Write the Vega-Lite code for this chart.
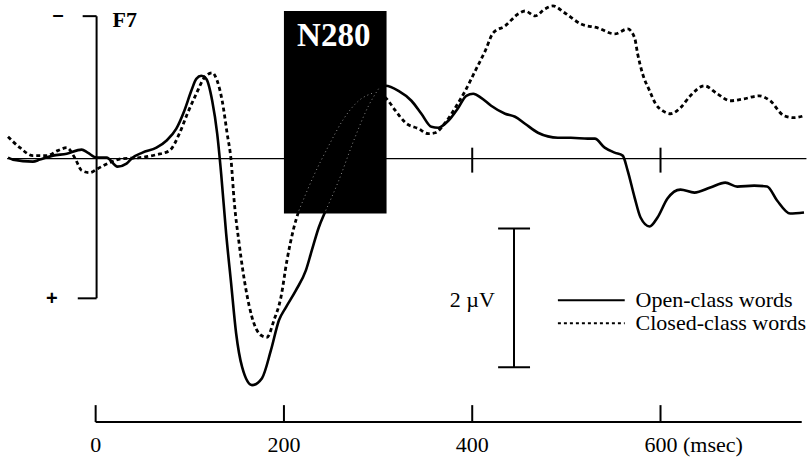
{
  "$schema": "https://vega.github.io/schema/vega-lite/v6.json",
  "width": 810,
  "height": 458,
  "autosize": {"type": "fit", "contains": "padding"},
  "padding": 0,
  "background": "white",
  "config": {"view": {"stroke": null}},
  "datasets": {
    "curves": [
      {"cond": "Open-class words", "ms": -93.1, "uv": -0.014},
      {"cond": "Open-class words", "ms": -87.8, "uv": 0.014},
      {"cond": "Open-class words", "ms": -66.7, "uv": 0.043},
      {"cond": "Open-class words", "ms": -59.3, "uv": 0.014},
      {"cond": "Open-class words", "ms": -45.5, "uv": -0.043},
      {"cond": "Open-class words", "ms": -30.7, "uv": -0.071},
      {"cond": "Open-class words", "ms": -14.8, "uv": -0.129},
      {"cond": "Open-class words", "ms": -8.5, "uv": -0.086},
      {"cond": "Open-class words", "ms": 1.1, "uv": -0.014},
      {"cond": "Open-class words", "ms": 11.6, "uv": -0.014},
      {"cond": "Open-class words", "ms": 23.3, "uv": 0.114},
      {"cond": "Open-class words", "ms": 32.8, "uv": 0.071},
      {"cond": "Open-class words", "ms": 39.2, "uv": -0.014},
      {"cond": "Open-class words", "ms": 49.7, "uv": -0.086},
      {"cond": "Open-class words", "ms": 64.6, "uv": -0.157},
      {"cond": "Open-class words", "ms": 75.1, "uv": -0.257},
      {"cond": "Open-class words", "ms": 85.7, "uv": -0.429},
      {"cond": "Open-class words", "ms": 94.2, "uv": -0.686},
      {"cond": "Open-class words", "ms": 101.6, "uv": -0.971},
      {"cond": "Open-class words", "ms": 106.9, "uv": -1.143},
      {"cond": "Open-class words", "ms": 112.2, "uv": -1.186},
      {"cond": "Open-class words", "ms": 117.5, "uv": -1.143},
      {"cond": "Open-class words", "ms": 123.8, "uv": -0.829},
      {"cond": "Open-class words", "ms": 129.1, "uv": -0.357},
      {"cond": "Open-class words", "ms": 133.3, "uv": 0.214},
      {"cond": "Open-class words", "ms": 138.6, "uv": 1.071},
      {"cond": "Open-class words", "ms": 143.9, "uv": 1.786},
      {"cond": "Open-class words", "ms": 149.2, "uv": 2.5},
      {"cond": "Open-class words", "ms": 155.6, "uv": 2.986},
      {"cond": "Open-class words", "ms": 166.1, "uv": 3.243},
      {"cond": "Open-class words", "ms": 176.7, "uv": 3.143},
      {"cond": "Open-class words", "ms": 186.2, "uv": 2.743},
      {"cond": "Open-class words", "ms": 194.7, "uv": 2.314},
      {"cond": "Open-class words", "ms": 202.1, "uv": 2.129},
      {"cond": "Open-class words", "ms": 212.7, "uv": 1.886},
      {"cond": "Open-class words", "ms": 223.3, "uv": 1.6},
      {"cond": "Open-class words", "ms": 229.6, "uv": 1.314},
      {"cond": "Open-class words", "ms": 237.0, "uv": 0.986},
      {"cond": "Open-class words", "ms": 244.4, "uv": 0.743},
      {"cond": "Open-class words", "ms": 258.2, "uv": 0.314},
      {"cond": "Open-class words", "ms": 274.1, "uv": -0.257},
      {"cond": "Open-class words", "ms": 289.9, "uv": -0.757},
      {"cond": "Open-class words", "ms": 300.5, "uv": -1.0},
      {"cond": "Open-class words", "ms": 307.9, "uv": -1.043},
      {"cond": "Open-class words", "ms": 321.7, "uv": -0.971},
      {"cond": "Open-class words", "ms": 335.4, "uv": -0.829},
      {"cond": "Open-class words", "ms": 346.0, "uv": -0.643},
      {"cond": "Open-class words", "ms": 356.6, "uv": -0.457},
      {"cond": "Open-class words", "ms": 364.0, "uv": -0.443},
      {"cond": "Open-class words", "ms": 374.6, "uv": -0.543},
      {"cond": "Open-class words", "ms": 385.2, "uv": -0.729},
      {"cond": "Open-class words", "ms": 393.7, "uv": -0.9},
      {"cond": "Open-class words", "ms": 401.1, "uv": -0.929},
      {"cond": "Open-class words", "ms": 409.5, "uv": -0.871},
      {"cond": "Open-class words", "ms": 420.1, "uv": -0.757},
      {"cond": "Open-class words", "ms": 434.9, "uv": -0.643},
      {"cond": "Open-class words", "ms": 445.5, "uv": -0.6},
      {"cond": "Open-class words", "ms": 456.1, "uv": -0.5},
      {"cond": "Open-class words", "ms": 469.8, "uv": -0.371},
      {"cond": "Open-class words", "ms": 491.0, "uv": -0.3},
      {"cond": "Open-class words", "ms": 504.8, "uv": -0.3},
      {"cond": "Open-class words", "ms": 522.8, "uv": -0.286},
      {"cond": "Open-class words", "ms": 530.2, "uv": -0.286},
      {"cond": "Open-class words", "ms": 540.7, "uv": -0.157},
      {"cond": "Open-class words", "ms": 551.3, "uv": -0.086},
      {"cond": "Open-class words", "ms": 559.8, "uv": -0.043},
      {"cond": "Open-class words", "ms": 565.1, "uv": 0.171},
      {"cond": "Open-class words", "ms": 572.5, "uv": 0.557},
      {"cond": "Open-class words", "ms": 578.8, "uv": 0.843},
      {"cond": "Open-class words", "ms": 588.4, "uv": 0.971},
      {"cond": "Open-class words", "ms": 596.8, "uv": 0.843},
      {"cond": "Open-class words", "ms": 607.4, "uv": 0.571},
      {"cond": "Open-class words", "ms": 621.2, "uv": 0.443},
      {"cond": "Open-class words", "ms": 636.0, "uv": 0.486},
      {"cond": "Open-class words", "ms": 652.9, "uv": 0.414},
      {"cond": "Open-class words", "ms": 668.8, "uv": 0.343},
      {"cond": "Open-class words", "ms": 681.5, "uv": 0.4},
      {"cond": "Open-class words", "ms": 699.5, "uv": 0.386},
      {"cond": "Open-class words", "ms": 713.2, "uv": 0.4},
      {"cond": "Open-class words", "ms": 723.8, "uv": 0.6},
      {"cond": "Open-class words", "ms": 737.6, "uv": 0.786},
      {"cond": "Open-class words", "ms": 752.4, "uv": 0.771},

      {"cond": "Closed-class words", "ms": -93.1, "uv": -0.314},
      {"cond": "Closed-class words", "ms": -80.4, "uv": -0.157},
      {"cond": "Closed-class words", "ms": -66.7, "uv": -0.043},
      {"cond": "Closed-class words", "ms": -51.9, "uv": -0.043},
      {"cond": "Closed-class words", "ms": -40.2, "uv": -0.114},
      {"cond": "Closed-class words", "ms": -30.7, "uv": -0.157},
      {"cond": "Closed-class words", "ms": -22.2, "uv": -0.014},
      {"cond": "Closed-class words", "ms": -14.8, "uv": 0.171},
      {"cond": "Closed-class words", "ms": -6.3, "uv": 0.2},
      {"cond": "Closed-class words", "ms": 2.1, "uv": 0.143},
      {"cond": "Closed-class words", "ms": 14.8, "uv": 0.057},
      {"cond": "Closed-class words", "ms": 28.6, "uv": 0.0},
      {"cond": "Closed-class words", "ms": 46.6, "uv": -0.014},
      {"cond": "Closed-class words", "ms": 64.6, "uv": -0.057},
      {"cond": "Closed-class words", "ms": 78.3, "uv": -0.114},
      {"cond": "Closed-class words", "ms": 88.9, "uv": -0.357},
      {"cond": "Closed-class words", "ms": 97.4, "uv": -0.643},
      {"cond": "Closed-class words", "ms": 106.9, "uv": -0.929},
      {"cond": "Closed-class words", "ms": 115.3, "uv": -1.157},
      {"cond": "Closed-class words", "ms": 123.8, "uv": -1.229},
      {"cond": "Closed-class words", "ms": 129.1, "uv": -1.114},
      {"cond": "Closed-class words", "ms": 134.4, "uv": -0.829},
      {"cond": "Closed-class words", "ms": 139.7, "uv": -0.357},
      {"cond": "Closed-class words", "ms": 143.9, "uv": 0.029},
      {"cond": "Closed-class words", "ms": 147.1, "uv": 0.6},
      {"cond": "Closed-class words", "ms": 152.4, "uv": 1.214},
      {"cond": "Closed-class words", "ms": 159.8, "uv": 1.886},
      {"cond": "Closed-class words", "ms": 166.1, "uv": 2.271},
      {"cond": "Closed-class words", "ms": 175.7, "uv": 2.529},
      {"cond": "Closed-class words", "ms": 182.0, "uv": 2.557},
      {"cond": "Closed-class words", "ms": 189.4, "uv": 2.314},
      {"cond": "Closed-class words", "ms": 196.8, "uv": 1.986},
      {"cond": "Closed-class words", "ms": 203.2, "uv": 1.457},
      {"cond": "Closed-class words", "ms": 210.6, "uv": 0.986},
      {"cond": "Closed-class words", "ms": 215.9, "uv": 0.743},
      {"cond": "Closed-class words", "ms": 231.7, "uv": 0.243},
      {"cond": "Closed-class words", "ms": 247.6, "uv": -0.186},
      {"cond": "Closed-class words", "ms": 263.5, "uv": -0.571},
      {"cond": "Closed-class words", "ms": 279.4, "uv": -0.829},
      {"cond": "Closed-class words", "ms": 295.2, "uv": -0.943},
      {"cond": "Closed-class words", "ms": 307.9, "uv": -0.871},
      {"cond": "Closed-class words", "ms": 318.5, "uv": -0.686},
      {"cond": "Closed-class words", "ms": 329.1, "uv": -0.514},
      {"cond": "Closed-class words", "ms": 342.9, "uv": -0.429},
      {"cond": "Closed-class words", "ms": 353.4, "uv": -0.357},
      {"cond": "Closed-class words", "ms": 360.8, "uv": -0.371},
      {"cond": "Closed-class words", "ms": 371.4, "uv": -0.514},
      {"cond": "Closed-class words", "ms": 382.0, "uv": -0.729},
      {"cond": "Closed-class words", "ms": 392.6, "uv": -0.971},
      {"cond": "Closed-class words", "ms": 403.2, "uv": -1.257},
      {"cond": "Closed-class words", "ms": 413.8, "uv": -1.543},
      {"cond": "Closed-class words", "ms": 422.2, "uv": -1.8},
      {"cond": "Closed-class words", "ms": 434.9, "uv": -1.9},
      {"cond": "Closed-class words", "ms": 448.7, "uv": -2.071},
      {"cond": "Closed-class words", "ms": 456.1, "uv": -2.114},
      {"cond": "Closed-class words", "ms": 466.7, "uv": -2.043},
      {"cond": "Closed-class words", "ms": 477.2, "uv": -2.143},
      {"cond": "Closed-class words", "ms": 485.7, "uv": -2.186},
      {"cond": "Closed-class words", "ms": 498.4, "uv": -2.086},
      {"cond": "Closed-class words", "ms": 515.3, "uv": -1.929},
      {"cond": "Closed-class words", "ms": 533.3, "uv": -1.871},
      {"cond": "Closed-class words", "ms": 551.3, "uv": -1.786},
      {"cond": "Closed-class words", "ms": 565.1, "uv": -1.857},
      {"cond": "Closed-class words", "ms": 572.5, "uv": -1.729},
      {"cond": "Closed-class words", "ms": 575.7, "uv": -1.5},
      {"cond": "Closed-class words", "ms": 581.0, "uv": -1.214},
      {"cond": "Closed-class words", "ms": 588.4, "uv": -0.971},
      {"cond": "Closed-class words", "ms": 594.7, "uv": -0.786},
      {"cond": "Closed-class words", "ms": 602.1, "uv": -0.686},
      {"cond": "Closed-class words", "ms": 610.6, "uv": -0.643},
      {"cond": "Closed-class words", "ms": 621.2, "uv": -0.729},
      {"cond": "Closed-class words", "ms": 631.7, "uv": -0.9},
      {"cond": "Closed-class words", "ms": 646.6, "uv": -1.043},
      {"cond": "Closed-class words", "ms": 660.3, "uv": -0.929},
      {"cond": "Closed-class words", "ms": 674.1, "uv": -0.829},
      {"cond": "Closed-class words", "ms": 688.9, "uv": -0.857},
      {"cond": "Closed-class words", "ms": 704.8, "uv": -0.9},
      {"cond": "Closed-class words", "ms": 716.4, "uv": -0.829},
      {"cond": "Closed-class words", "ms": 731.2, "uv": -0.614},
      {"cond": "Closed-class words", "ms": 741.8, "uv": -0.586},
      {"cond": "Closed-class words", "ms": 752.4, "uv": -0.614}
    ],
    "thick": [
      {"part": "vertical axis", "ms": 1, "ms2": 1, "uv": -2.04, "uv2": 2.0},
      {"part": "top tick", "ms": -13.8, "ms2": 1, "uv": -2.04, "uv2": -2.04},
      {"part": "bottom tick", "ms": -19, "ms2": 1, "uv": 2.0, "uv2": 2.0},
      {"part": "tick 400", "ms": 400, "ms2": 400, "uv": -0.157, "uv2": 0.2},
      {"part": "tick 600", "ms": 600, "ms2": 600, "uv": -0.157, "uv2": 0.2},
      {"part": "time axis", "ms": 0, "ms2": 750, "uv": 3.771, "uv2": 3.771},
      {"part": "time tick 0", "ms": 0, "ms2": 0, "uv": 3.529, "uv2": 3.771},
      {"part": "time tick 200", "ms": 200, "ms2": 200, "uv": 3.529, "uv2": 3.771},
      {"part": "time tick 400", "ms": 400, "ms2": 400, "uv": 3.529, "uv2": 3.771},
      {"part": "time tick 600", "ms": 600, "ms2": 600, "uv": 3.529, "uv2": 3.771},
      {"part": "scale bar", "ms": 444.4, "ms2": 444.4, "uv": 1.0, "uv2": 2.986},
      {"part": "scale cap top", "ms": 427.5, "ms2": 461.4, "uv": 1.0, "uv2": 1.0},
      {"part": "scale cap bottom", "ms": 427.5, "ms2": 461.4, "uv": 2.986, "uv2": 2.986},
      {"part": "legend solid", "ms": 491, "ms2": 562, "uv": 2.029, "uv2": 2.029}
    ]
  },
  "layer": [
    {
      "data": {"values": [{"ms": -94, "ms2": 755, "uv": 0}]},
      "mark": {"type": "rule", "color": "black", "strokeWidth": 1.2},
      "encoding": {
        "x": {"field": "ms", "type": "quantitative", "axis": null, "scale": {"domain": [-101.6, 755.6], "nice": false, "zero": false}},
        "x2": {"field": "ms2"},
        "y": {"field": "uv", "type": "quantitative", "axis": null, "scale": {"domain": [-2.257, 4.286], "nice": false, "zero": false, "reverse": true}}
      }
    },
    {
      "data": {"name": "thick"},
      "mark": {"type": "rule", "color": "black", "strokeWidth": 2},
      "encoding": {
        "x": {"field": "ms", "type": "quantitative", "axis": null},
        "x2": {"field": "ms2"},
        "y": {"field": "uv", "type": "quantitative", "axis": null},
        "y2": {"field": "uv2"}
      }
    },
    {
      "data": {"values": [{"ms": 491, "ms2": 562, "uv": 2.357}]},
      "mark": {"type": "rule", "color": "black", "strokeWidth": 2, "strokeDash": [3, 3]},
      "encoding": {
        "x": {"field": "ms", "type": "quantitative", "axis": null},
        "x2": {"field": "ms2"},
        "y": {"field": "uv", "type": "quantitative", "axis": null}
      }
    },
    {
      "data": {"name": "curves"},
      "transform": [{"filter": "datum.cond === 'Open-class words'"}],
      "mark": {"type": "line", "color": "black", "strokeWidth": 2.6, "interpolate": "monotone"},
      "encoding": {
        "x": {"field": "ms", "type": "quantitative", "axis": null},
        "y": {"field": "uv", "type": "quantitative", "axis": null}
      }
    },
    {
      "data": {"name": "curves"},
      "transform": [{"filter": "datum.cond === 'Closed-class words'"}],
      "mark": {"type": "line", "color": "black", "strokeWidth": 2.8, "strokeDash": [4, 3], "interpolate": "monotone"},
      "encoding": {
        "x": {"field": "ms", "type": "quantitative", "axis": null},
        "y": {"field": "uv", "type": "quantitative", "axis": null}
      }
    },
    {
      "data": {"values": [{"label": "N280", "ms": 200, "ms2": 309, "uv": -2.114, "uv2": 0.786}]},
      "mark": {"type": "rect", "color": "black"},
      "encoding": {
        "x": {"field": "ms", "type": "quantitative", "axis": null},
        "x2": {"field": "ms2"},
        "y": {"field": "uv", "type": "quantitative", "axis": null},
        "y2": {"field": "uv2"}
      }
    },
    {
      "data": {"name": "curves"},
      "transform": [{"filter": "datum.ms > 203 && datum.ms < 306 && datum.uv < 0.78"}],
      "mark": {"type": "line", "color": "#8a8a8a", "strokeWidth": 1, "strokeDash": [1, 3], "interpolate": "monotone"},
      "encoding": {
        "x": {"field": "ms", "type": "quantitative", "axis": null},
        "y": {"field": "uv", "type": "quantitative", "axis": null},
        "detail": {"field": "cond"}
      }
    },
    {
      "data": {"values": [{"label": "N280", "ms": 252.9, "uv": -1.757}]},
      "mark": {"type": "text", "color": "white", "font": "Liberation Serif", "fontWeight": "bold", "fontSize": 33, "align": "center", "baseline": "middle"},
      "encoding": {
        "x": {"field": "ms", "type": "quantitative", "axis": null},
        "y": {"field": "uv", "type": "quantitative", "axis": null},
        "text": {"field": "label"}
      }
    },
    {
      "data": {"values": [
        {"label": "0", "ms": 0, "uv": 4.1},
        {"label": "200", "ms": 200, "uv": 4.1},
        {"label": "400", "ms": 400, "uv": 4.1}
      ]},
      "mark": {"type": "text", "color": "black", "font": "Liberation Serif", "fontSize": 22, "align": "center", "baseline": "middle"},
      "encoding": {
        "x": {"field": "ms", "type": "quantitative", "axis": null},
        "y": {"field": "uv", "type": "quantitative", "axis": null},
        "text": {"field": "label"}
      }
    },
    {
      "data": {"values": [
        {"label": "600 (msec)", "ms": 583, "uv": 4.1},
        {"label": "Open-class words", "ms": 573.5, "uv": 2.029},
        {"label": "Closed-class words", "ms": 573.5, "uv": 2.357}
      ]},
      "mark": {"type": "text", "color": "black", "font": "Liberation Serif", "fontSize": 22, "align": "left", "baseline": "middle"},
      "encoding": {
        "x": {"field": "ms", "type": "quantitative", "axis": null},
        "y": {"field": "uv", "type": "quantitative", "axis": null},
        "text": {"field": "label"}
      }
    },
    {
      "data": {"values": [{"label": "2 µV", "ms": 424, "uv": 2.03}]},
      "mark": {"type": "text", "color": "black", "font": "Liberation Serif", "fontSize": 22, "align": "right", "baseline": "middle"},
      "encoding": {
        "x": {"field": "ms", "type": "quantitative", "axis": null},
        "y": {"field": "uv", "type": "quantitative", "axis": null},
        "text": {"field": "label"}
      }
    },
    {
      "data": {"values": [
        {"label": "F7", "ms": 18, "uv": -1.98}
      ]},
      "mark": {"type": "text", "color": "black", "font": "Liberation Serif", "fontWeight": "bold", "fontSize": 22, "align": "left", "baseline": "middle"},
      "encoding": {
        "x": {"field": "ms", "type": "quantitative", "axis": null},
        "y": {"field": "uv", "type": "quantitative", "axis": null},
        "text": {"field": "label"}
      }
    },
    {
      "data": {"values": [
        {"label": "–", "ms": -40, "uv": -2.06},
        {"label": "+", "ms": -46.6, "uv": 2.01}
      ]},
      "mark": {"type": "text", "color": "black", "font": "Liberation Sans", "fontWeight": "bold", "fontSize": 20, "align": "center", "baseline": "middle"},
      "encoding": {
        "x": {"field": "ms", "type": "quantitative", "axis": null},
        "y": {"field": "uv", "type": "quantitative", "axis": null},
        "text": {"field": "label"}
      }
    }
  ]
}
